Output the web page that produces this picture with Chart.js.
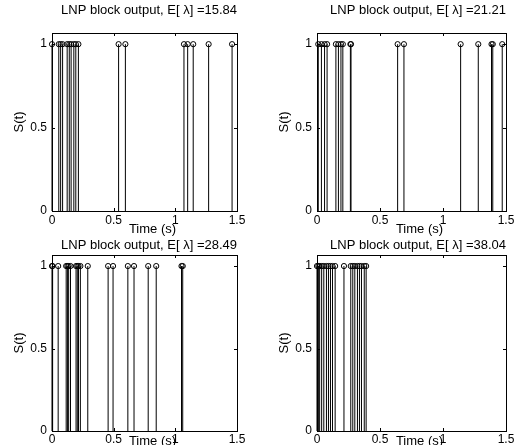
<!DOCTYPE html>
<html>
<head>
<meta charset="utf-8">
<script src="https://cdn.jsdelivr.net/npm/chart.js@4.4.0/dist/chart.umd.min.js"></script>
<style>
  body { margin: 0; background: #fff; width: 530px; height: 445px; position: relative; overflow: hidden; }
  canvas { position: absolute; }
</style>
</head>
<body>
<canvas id="c1" width="265" height="242" style="left:0;top:0"></canvas>
<canvas id="c2" width="265" height="242" style="left:265px;top:0"></canvas>
<canvas id="c3" width="265" height="242" style="left:0;top:222px"></canvas>
<canvas id="c4" width="265" height="242" style="left:265px;top:222px"></canvas>
<script>
// spike times (s)
const spikes1 = [0.0, 0.055, 0.07, 0.086, 0.123, 0.14, 0.155, 0.177, 0.193, 0.214, 0.54, 0.595, 1.07, 1.1, 1.145, 1.27, 1.46];
const spikes2 = [0.01, 0.035, 0.06, 0.08, 0.15, 0.17, 0.19, 0.205, 0.265, 0.27, 0.64, 0.69, 1.14, 1.28, 1.385, 1.395, 1.47];
const spikes3 = [0.0, 0.005, 0.05, 0.115, 0.125, 0.135, 0.15, 0.195, 0.205, 0.215, 0.23, 0.29, 0.455, 0.495, 0.615, 0.665, 0.78, 0.845, 1.05, 1.06];
const spikes4 = [0.0, 0.011, 0.021, 0.037, 0.054, 0.075, 0.091, 0.107, 0.123, 0.144, 0.214, 0.268, 0.284, 0.3, 0.321, 0.337, 0.353, 0.375, 0.39];
const rates = ["15.84", "21.21", "28.49", "38.04"];
const xTicks = [0, 0.5, 1, 1.5];
const yTicks = [0, 0.5, 1];

const FONT = "'Liberation Sans', Arial, Helvetica, sans-serif";

// matlab style box with inward ticks
const boxPlugin = {
    id: "box",
    afterDraw(chart) {
        const { ctx, chartArea: a, scales } = chart;
        ctx.save();
        ctx.strokeStyle = "#000";
        ctx.lineWidth = 1;
        ctx.strokeRect(Math.round(a.left) + 0.5, Math.round(a.top) + 0.5, Math.round(a.right - a.left), Math.round(a.bottom - a.top));
        ctx.beginPath();
        xTicks.forEach(v => {
            const px = Math.round(scales.x.getPixelForValue(v)) + 0.5;
            ctx.moveTo(px, a.bottom); ctx.lineTo(px, a.bottom - 3);
            ctx.moveTo(px, a.top); ctx.lineTo(px, a.top + 3);
        });
        yTicks.forEach(v => {
            const py = Math.round(scales.y.getPixelForValue(v)) + 0.5;
            ctx.moveTo(a.left, py); ctx.lineTo(a.left + 3, py);
            ctx.moveTo(a.right, py); ctx.lineTo(a.right - 3, py);
        });
        ctx.stroke();
        ctx.restore();
    }
};

// x axis label, sits a bit right of centre like the original
const xLabelPlugin = {
    id: "xlabel",
    afterDraw(chart, args, opts) {
        const { ctx, chartArea: a } = chart;
        ctx.save();
        ctx.fillStyle = "#000";
        ctx.font = "13px " + FONT;
        ctx.textAlign = "center";
        ctx.textBaseline = "middle";
        ctx.fillText(opts.text, (a.left + a.right) / 2 + 8, a.bottom + opts.dy);
        ctx.restore();
    }
};

function stemData(times) {
    const pts = [];
    times.forEach(t => {
        pts.push({ x: t, y: 0 }, { x: t, y: 1 }, { x: t, y: null });
    });
    return pts;
}

function makePanel(id, times, rate, lay) {
    const ctx = document.getElementById(id).getContext("2d");
    return new Chart(ctx, {
        type: "scatter",
        data: {
            datasets: [{
                data: stemData(times),
                showLine: true,
                spanGaps: false,
                borderColor: "#000",
                borderWidth: 1,
                pointRadius: c => (c.raw && c.raw.y === 1 ? 2.6 : 0),
                pointHoverRadius: 0,
                pointStyle: "circle",
                pointBorderColor: "#000",
                pointBorderWidth: 1,
                pointBackgroundColor: "rgba(0,0,0,0)",
                clip: 4
            }]
        },
        options: {
            responsive: false,
            animation: false,
            events: [],
            layout: { padding: { left: 0, right: lay.right, top: 0, bottom: lay.bottom } },
            plugins: {
                legend: { display: false },
                tooltip: { enabled: false },
                title: {
                    display: true,
                    fullSize: false,
                    align: "end",
                    text: "LNP block output, E[ \u03bb] =" + rate,
                    color: "#000",
                    font: { family: FONT, size: 13, weight: "normal" },
                    padding: lay.title
                },
                xlabel: { text: "Time (s)", dy: lay.dy }
            },
            scales: {
                x: {
                    type: "linear",
                    min: 0, max: 1.5,
                    afterBuildTicks: s => { s.ticks = xTicks.map(v => ({ value: v })); },
                    afterFit: s => { s.height = lay.xh; },
                    grid: { display: false, drawTicks: false },
                    border: { display: false },
                    ticks: { color: "#000", padding: lay.tp, maxRotation: 0, font: { family: FONT, size: 12 }, callback: v => String(v) }
                },
                y: {
                    min: 0, max: 1.067,
                    afterBuildTicks: s => { s.ticks = yTicks.map(v => ({ value: v })); },
                    afterFit: s => { s.width = 52; },
                    grid: { display: false, drawTicks: false },
                    border: { display: false },
                    ticks: { color: "#000", padding: 5, font: { family: FONT, size: 12 }, callback: v => String(v) },
                    title: { display: true, text: "S(t)", color: "#000", font: { family: FONT, size: 13 }, padding: { top: 12, bottom: 0 } }
                }
            }
        },
        plugins: [boxPlugin, xLabelPlugin]
    });
}

const topLay = { title: { top: 3, bottom: 14.4 }, bottom: 0, xh: 31, tp: 2, dy: 18 };
const botLay = { title: { top: 15.2, bottom: 2.2 }, bottom: 12.2, xh: 20.8, tp: 1, dy: 10 };

makePanel("c1", spikes1, rates[0], Object.assign({ right: 28 }, topLay));
makePanel("c2", spikes2, rates[1], Object.assign({ right: 24 }, topLay));
makePanel("c3", spikes3, rates[2], Object.assign({ right: 28 }, botLay));
makePanel("c4", spikes4, rates[3], Object.assign({ right: 24 }, botLay));
</script>
</body>
</html>
